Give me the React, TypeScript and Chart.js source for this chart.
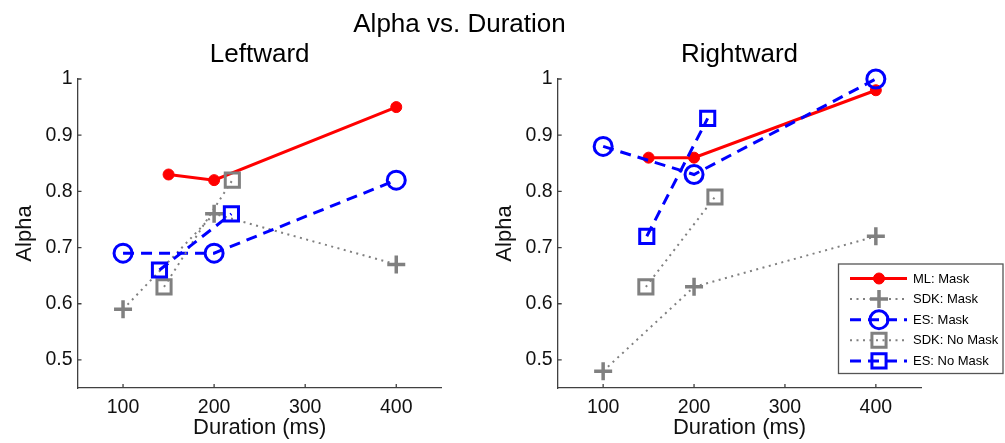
import React, { useEffect, useRef } from 'react';
import { Chart, registerables } from 'chart.js';
import { drawPoint } from 'chart.js/helpers';

Chart.register(...registerables);

const FONT = '"Liberation Sans", Arial, Helvetica, sans-serif';
const AXIS_COLOR = '#404040';

// ---------- data ----------
const suptitle = 'Alpha vs. Duration';
const panelTitles = ['Leftward', 'Rightward'];
const xAxisTitle = 'Duration (ms)';
const yAxisTitle = 'Alpha';
const xTicks = [100, 200, 300, 400];
const xTickLabels = ['100', '200', '300', '400'];
const yTicks = [0.5, 0.6, 0.7, 0.8, 0.9, 1];
const yTickLabels = ['0.5', '0.6', '0.7', '0.8', '0.9', '1'];
const seriesNames = ['ML: Mask', 'SDK: Mask', 'ES: Mask', 'SDK: No Mask', 'ES: No Mask'];

const mlMaskX = [150, 200, 400];
const sdkMaskX = [100, 200, 400];
const esMaskX = [100, 200, 400];

const leftMLMask = [0.83, 0.82, 0.95];
const leftSDKMask = [0.59, 0.76, 0.67];
const leftESMask = [0.69, 0.69, 0.82];
const leftSDKNoMaskX = [145, 220];
const leftSDKNoMask = [0.63, 0.82];
const leftESNoMaskX = [140, 219];
const leftESNoMask = [0.66, 0.76];

const rightMLMask = [0.86, 0.86, 0.98];
const rightSDKMask = [0.48, 0.63, 0.72];
const rightESMask = [0.88, 0.83, 1.0];
const rightSDKNoMaskX = [147, 223];
const rightSDKNoMask = [0.63, 0.79];
const rightESNoMaskX = [148, 215];
const rightESNoMask = [0.72, 0.93];

const panelSeries = [
  [
    [mlMaskX, leftMLMask],
    [sdkMaskX, leftSDKMask],
    [esMaskX, leftESMask],
    [leftSDKNoMaskX, leftSDKNoMask],
    [leftESNoMaskX, leftESNoMask],
  ],
  [
    [mlMaskX, rightMLMask],
    [sdkMaskX, rightSDKMask],
    [esMaskX, rightESMask],
    [rightSDKNoMaskX, rightSDKNoMask],
    [rightESNoMaskX, rightESNoMask],
  ],
];

// ---------- styles ----------
const styles = [
  { color: '#ff0000', width: 3, dash: [] as number[], point: 'circle', radius: 5.5, pbw: 1, fill: true },
  { color: '#808080', width: 2, dash: [2, 4.5], point: 'cross', radius: 9, pbw: 3.5, fill: false },
  { color: '#0000ff', width: 3, dash: [11, 7], point: 'circle', radius: 9, pbw: 3, fill: false },
  { color: '#808080', width: 2, dash: [2, 4.5], point: 'rect', radius: 10, pbw: 3, fill: false },
  { color: '#0000ff', width: 3, dash: [11, 7], point: 'rect', radius: 10, pbw: 3, fill: false },
];

const W = 1005;
const H = 443;
const PLOT_LEFT = [77.5, 557.7];
const PLOT_RIGHT = [441.8, 921.3];
const PLOT_TOP = 79;
const Y_AXIS_W = 77.5;
const X_AXIS_H = 55;

function drawLegend(ctx: CanvasRenderingContext2D, datasets: any[]) {
  const bx = 838.5, by = 264, bw = 164.5, bh = 109.5;
  ctx.save();
  ctx.fillStyle = '#ffffff';
  ctx.fillRect(bx, by, bw, bh);
  ctx.strokeStyle = '#555555';
  ctx.lineWidth = 1.3;
  ctx.setLineDash([]);
  ctx.strokeRect(bx, by, bw, bh);
  const rowY0 = 278.5;
  const rowDy = 20.6;
  seriesNames.forEach((name, i) => {
    const ds = datasets[i];
    const y = rowY0 + i * rowDy;
    ctx.save();
    ctx.strokeStyle = ds.borderColor;
    ctx.lineWidth = ds.borderWidth;
    ctx.setLineDash(ds.borderDash);
    ctx.beginPath();
    ctx.moveTo(850, y);
    ctx.lineTo(907, y);
    ctx.stroke();
    ctx.restore();
    ctx.save();
    ctx.setLineDash([]);
    ctx.strokeStyle = ds.pointBorderColor;
    ctx.fillStyle = ds.pointBackgroundColor;
    ctx.lineWidth = ds.pointBorderWidth;
    drawPoint(ctx, { pointStyle: ds.pointStyle, radius: ds.pointRadius, borderWidth: ds.pointBorderWidth, rotation: 0 } as any, 879, y);
    ctx.restore();
    ctx.fillStyle = '#000000';
    ctx.font = `13px ${FONT}`;
    ctx.textAlign = 'left';
    ctx.textBaseline = 'middle';
    ctx.fillText(name, 913, y + 0.5);
  });
  ctx.restore();
}

const decorPlugin = {
  id: 'decor',
  afterDraw(chart: any, _args: any, opts: any) {
    const ctx: CanvasRenderingContext2D = chart.ctx;
    const { left, right, bottom } = chart.chartArea;
    const xs = chart.scales.x;
    const ys = chart.scales.y;
    ctx.save();
    ctx.strokeStyle = AXIS_COLOR;
    ctx.lineWidth = 1.3;
    ctx.setLineDash([]);
    ctx.beginPath();
    xTicks.forEach((v) => {
      const px = xs.getPixelForValue(v);
      ctx.moveTo(px, bottom);
      ctx.lineTo(px, bottom - 4);
    });
    yTicks.forEach((v) => {
      const py = ys.getPixelForValue(v);
      ctx.moveTo(left, py);
      ctx.lineTo(left + 4, py);
    });
    ctx.stroke();
    ctx.fillStyle = '#000000';
    ctx.font = `26px ${FONT}`;
    ctx.textAlign = 'center';
    ctx.textBaseline = 'alphabetic';
    ctx.fillText(opts.title, (left + right) / 2, 61.7);
    if (opts.suptitle) ctx.fillText(opts.suptitle, 459.5, 31.7);
    ctx.restore();
    if (opts.legend) drawLegend(ctx, chart.data.datasets);
  },
};

function makeConfig(p: number): any {
  const datasets = panelSeries[p].map(([xsArr, ysArr], i) => {
    const s = styles[i];
    return {
      label: seriesNames[i],
      data: (xsArr as number[]).map((x, k) => ({ x, y: (ysArr as number[])[k] })),
      borderColor: s.color,
      backgroundColor: s.color,
      borderWidth: s.width,
      borderDash: s.dash,
      pointStyle: s.point,
      pointRadius: s.radius,
      pointHoverRadius: s.radius,
      pointBorderWidth: s.pbw,
      pointBorderColor: s.color,
      pointBackgroundColor: s.fill ? s.color : 'rgba(0,0,0,0)',
      tension: 0,
      fill: false,
      clip: false,
      order: 5 - i,
    };
  });
  const tickFont = { size: 19.5, family: FONT };
  const titleFont = { size: 22, family: FONT };
  return {
    type: 'line',
    data: { datasets },
    plugins: [decorPlugin],
    options: {
      animation: false,
      responsive: false,
      events: [],
      layout: {
        padding: { left: PLOT_LEFT[p] - Y_AXIS_W, right: W - PLOT_RIGHT[p], top: PLOT_TOP, bottom: 0 },
      },
      plugins: {
        legend: { display: false },
        tooltip: { enabled: false },
        decor: { title: panelTitles[p], suptitle: p === 0 ? suptitle : null, legend: p === 1 },
      },
      scales: {
        x: {
          type: 'linear',
          min: 50,
          max: 450,
          afterBuildTicks: (s: any) => { s.ticks = xTicks.map((v) => ({ value: v })); },
          afterFit: (s: any) => { s.height = X_AXIS_H; },
          grid: { display: false, drawOnChartArea: false, drawTicks: false },
          border: { display: true, color: AXIS_COLOR, width: 1.3 },
          ticks: {
            autoSkip: false, maxRotation: 0, minRotation: 0, padding: 8,
            color: '#111111', font: tickFont,
            callback: (_v: any, i: number) => xTickLabels[i],
          },
          title: { display: true, text: xAxisTitle, color: '#111111', font: titleFont, padding: { top: 0, bottom: 2 } },
        },
        y: {
          type: 'linear',
          min: 0.45,
          max: 1,
          afterBuildTicks: (s: any) => { s.ticks = yTicks.map((v) => ({ value: v })); },
          afterFit: (s: any) => { s.width = Y_AXIS_W; },
          grid: { display: false, drawOnChartArea: false, drawTicks: false },
          border: { display: true, color: AXIS_COLOR, width: 1.3 },
          ticks: {
            autoSkip: false, padding: 5,
            color: '#111111', font: tickFont,
            callback: (_v: any, i: number) => yTickLabels[i],
          },
          title: { display: true, text: yAxisTitle, color: '#111111', font: titleFont, padding: { top: 11.5, bottom: 0 } },
        },
      },
    },
  };
}

export default function App() {
  const leftRef = useRef<HTMLCanvasElement>(null);
  const rightRef = useRef<HTMLCanvasElement>(null);
  useEffect(() => {
    const c1 = new Chart(leftRef.current as HTMLCanvasElement, makeConfig(0));
    const c2 = new Chart(rightRef.current as HTMLCanvasElement, makeConfig(1));
    return () => {
      c1.destroy();
      c2.destroy();
    };
  }, []);
  return (
    <div style={{ position: 'fixed', left: 0, top: 0, width: W, height: H, background: '#ffffff', overflow: 'hidden' }}>
      <canvas ref={leftRef} width={W} height={H} style={{ position: 'absolute', left: 0, top: 0 }} />
      <canvas ref={rightRef} width={W} height={H} style={{ position: 'absolute', left: 0, top: 0 }} />
    </div>
  );
}
